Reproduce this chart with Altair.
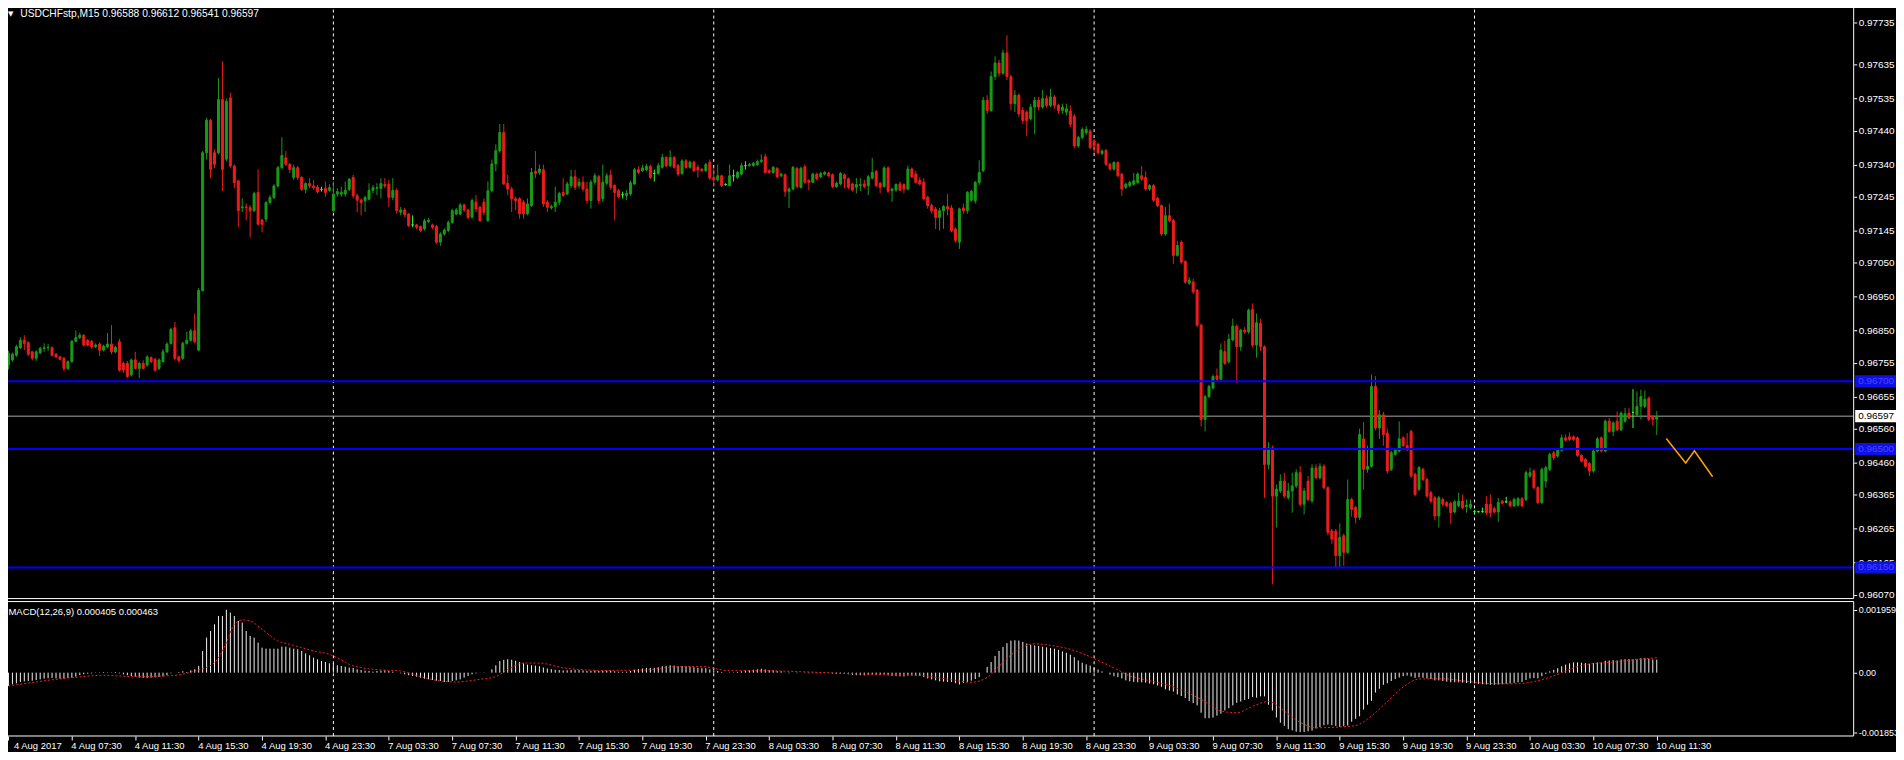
import json
import altair as alt
import pandas as pd

# ---------------- data (prices in points, 1 point = 0.00001) ----------------
OPEN_PTS = [
    96748,96763,96777,96799,96821,96814,96787,96768,96784,96797,
    96799,96799,96780,96772,96768,96738,96758,96818,96829,96836,
    96821,96818,96802,96810,96792,96802,96810,96787,96817,96753,
    96753,96719,96763,96738,96753,96748,96770,96765,96738,96758,
    96787,96812,96858,96772,96768,96812,96821,96849,96792,96968,
    97375,97471,97375,97375,97532,97356,97537,97336,97292,97213,
    97215,97213,97204,97258,97176,97179,97228,97243,97277,97331,
    97360,97341,97302,97331,97302,97267,97284,97277,97274,97267,
    97270,97264,97204,97253,97253,97253,97267,97302,97248,97235,
    97233,97238,97264,97270,97270,97282,97282,97243,97264,97199,
    97206,97194,97162,97162,97157,97150,97172,97162,97157,97111,
    97135,97145,97169,97194,97194,97221,97206,
    97185,97229,97214,97229,97175,97263,97342,97381,97435,97285,
    97268,97239,97239,97229,97195,97219,97320,97317,97325,97229,
    97212,97216,97229,97258,97253,97278,97304,97278,97288,97268,
    97234,97288,97304,97239,97285,97309,97278,97263,97251,97249,
    97253,97283,97325,97322,97325,97335,97314,97314,97332,97361,
    97337,97361,97337,97314,97351,97332,97347,97332,97326,97322,
    97347,97302,97295,97307,97281,97278,97307,97302,97312,97337,
    97337,97337,97340,97349,97363,97322,97317,97329,97307,97310,
    97261,97268,97329,97273,97334,97293,97288,97312,97304,97312,
    97315,97310,97275,97283,97310,97298,97283,97273,97278,97283,
    97278,97300,97320,97285,97275,97330,97263,97265,97283,97281,
    97268,97327,97312,97293,97288,97244,
    97219,97209,97184,97204,97216,97212,97150,97111,97212,97204,
    97235,97233,97287,97322,97530,97500,97600,97640,97610,97670,
    97600,97520,97545,97500,97495,97475,97510,97530,97510,97535,
    97515,97540,97515,97500,97495,97498,
    97483,97395,97420,97434,97439,97410,97400,97373,97382,97341,
    97327,97346,97312,97273,97278,97282,97287,97307,97302,97268,
    97278,97241,97219,97135,97189,97175,97072,97111,97054,96990,
    96993,96969,96866,96587,96655,96680,96716,96706,96788,96758,
    96822,96863,96802,96851,96846,96912,96807,96871,96802,96454,
    96503,96361,96376,96405,96356,96376,96391,96430,96337,96405,
    96347,96444,96415,96449,96386,96258,96258,96185,96244,96195,
    96351,96327,96298,96530,96440,96449,96685,96562,96601,96547,
    96440,96484,96494,96533,96510,96552,96425,96381,96440,96410,
    96371,96356,96302,96351,96342,96340,96314,96332,96346,96330,
    96327,96315,96315,96315,96337,96337,96324,96314,96346,96344,
    96344,96332,96334,96353,96351,96420,96435,96386,96342,96405,
    96440,96489,96479,96496,96533,96536,96536,96533,96481,96469,
    96457,96435,96494,96533,96494,96582,96552,96582,96557,96582,
    96606,96608,96601,96626,96626,96650,96596,96588,
]
HIGH_PTS = [
    96790,96785,96808,96830,96836,96818,96790,96792,96802,96812,
    96810,96803,96783,96776,96772,96762,96822,96850,96843,96840,
    96825,96822,96812,96815,96808,96843,96866,96805,96825,96758,
    96760,96767,96787,96758,96762,96777,96774,96770,96768,96795,
    96815,96858,96875,96776,96817,96846,96855,96900,96975,97380,
    97478,97475,97385,97596,97645,97535,97552,97340,97295,97240,
    97225,97220,97260,97326,97180,97232,97250,97282,97336,97421,
    97380,97345,97340,97336,97306,97288,97300,97295,97280,97275,
    97290,97282,97290,97270,97275,97290,97300,97310,97255,97240,
    97248,97285,97280,97285,97300,97300,97295,97300,97270,97215,
    97212,97197,97190,97165,97160,97180,97182,97166,97162,97140,
    97152,97175,97210,97212,97226,97225,97210,
    97240,97250,97218,97240,97290,97355,97400,97460,97460,97310,
    97275,97245,97244,97235,97240,97330,97380,97340,97340,97235,
    97222,97275,97260,97300,97290,97325,97325,97300,97305,97290,
    97295,97315,97310,97340,97315,97325,97282,97268,97260,97265,
    97292,97330,97335,97340,97342,97340,97325,97345,97372,97365,
    97382,97365,97342,97356,97356,97352,97352,97340,97330,97345,
    97355,97330,97340,97310,97285,97340,97325,97322,97345,97350,
    97345,97348,97355,97370,97372,97326,97336,97333,97316,97314,
    97273,97336,97333,97334,97340,97296,97316,97316,97318,97321,
    97319,97314,97290,97318,97314,97302,97287,97300,97300,97295,
    97310,97360,97325,97289,97335,97335,97272,97285,97290,97285,
    97337,97332,97322,97302,97300,97248,
    97225,97215,97212,97220,97253,97220,97155,97213,97225,97262,
    97265,97292,97353,97540,97545,97615,97660,97650,97680,97722,
    97605,97560,97550,97510,97500,97520,97540,97540,97560,97545,
    97564,97545,97520,97520,97520,97515,
    97490,97425,97450,97454,97445,97415,97405,97385,97386,97345,
    97350,97350,97316,97287,97292,97315,97317,97336,97320,97282,
    97282,97245,97223,97215,97225,97180,97115,97116,97058,97008,
    97003,96973,96870,96660,96690,96720,96738,96812,96820,96840,
    96885,96868,96855,96860,96915,96930,96900,96885,96806,96520,
    96510,96395,96425,96430,96400,96430,96440,96450,96385,96420,
    96455,96455,96458,96455,96390,96264,96264,96280,96250,96410,
    96356,96332,96560,96580,96510,96720,96715,96615,96610,96560,
    96495,96502,96582,96538,96547,96557,96430,96450,96445,96415,
    96376,96361,96362,96356,96346,96344,96350,96371,96366,96351,
    96351,96320,96318,96327,96361,96366,96330,96356,96350,96359,
    96348,96356,96358,96358,96436,96445,96440,96390,96445,96450,
    96489,96494,96500,96543,96543,96549,96540,96537,96485,96473,
    96461,96498,96535,96537,96587,96592,96582,96611,96611,96621,
    96621,96677,96670,96675,96673,96655,96600,96612,
]
LOW_PTS = [
    96735,96758,96772,96795,96792,96775,96762,96760,96780,96787,
    96790,96774,96769,96762,96730,96733,96755,96815,96825,96803,
    96803,96796,96798,96775,96788,96798,96780,96783,96728,96725,
    96710,96714,96735,96709,96735,96743,96753,96728,96733,96755,
    96783,96808,96762,96755,96763,96808,96817,96812,96790,96965,
    97355,97300,97330,97370,97262,97350,97330,97270,97155,97200,
    97175,97125,97200,97160,97140,97170,97222,97238,97272,97326,
    97336,97315,97295,97295,97262,97255,97270,97265,97255,97260,
    97245,97260,97200,97245,97245,97245,97262,97240,97200,97190,
    97200,97235,97255,97250,97240,97270,97215,97235,97195,97190,
    97185,97155,97155,97150,97140,97145,97168,97150,97105,97100,
    97130,97140,97165,97190,97190,97200,97178,
    97180,97200,97170,97190,97170,97258,97320,97375,97280,97250,
    97200,97205,97180,97180,97190,97215,97300,97310,97215,97200,
    97207,97200,97220,97245,97250,97270,97265,97270,97260,97225,
    97210,97280,97225,97230,97280,97265,97175,97240,97240,97235,
    97248,97280,97312,97318,97320,97298,97290,97310,97328,97332,
    97332,97328,97305,97310,97328,97328,97318,97302,97318,97318,
    97295,97275,97290,97274,97278,97275,97290,97298,97308,97325,
    97335,97334,97336,97345,97314,97313,97313,97300,97303,97245,
    97212,97264,97270,97269,97283,97264,97285,97293,97300,97308,
    97303,97270,97271,97279,97270,97268,97260,97255,97262,97270,
    97250,97296,97274,97255,97272,97256,97230,97260,97261,97255,
    97264,97300,97284,97278,97234,97210,
    97195,97150,97145,97150,97190,97140,97110,97091,97195,97195,
    97230,97225,97280,97318,97490,97495,97590,97600,97605,97590,
    97500,97495,97480,97460,97424,97470,97430,97500,97505,97508,
    97510,97505,97490,97490,97485,97450,
    97388,97390,97415,97428,97385,97375,97370,97368,97336,97322,
    97322,97302,97248,97268,97273,97278,97283,97292,97263,97263,
    97230,97214,97130,97130,97170,97047,97068,97047,96988,96985,
    96958,96860,96567,96552,96650,96676,96700,96700,96748,96752,
    96818,96694,96790,96840,96840,96800,96770,96790,96356,96440,
    96100,96268,96370,96355,96350,96312,96385,96330,96307,96345,
    96340,96410,96410,96380,96245,96220,96150,96150,96155,96190,
    96300,96280,96290,96380,96430,96445,96555,96530,96510,96428,
    96435,96480,96490,96505,96494,96415,96360,96376,96405,96356,
    96340,96290,96268,96330,96328,96278,96310,96328,96322,96312,
    96322,96310,96312,96312,96305,96298,96310,96285,96336,96340,
    96328,96328,96330,96328,96346,96415,96380,96337,96337,96386,
    96435,96467,96474,96492,96522,96524,96524,96477,96460,96445,
    96420,96430,96490,96490,96490,96548,96538,96553,96553,96578,
    96588,96562,96597,96587,96621,96582,96569,96541,
]
CLOSE_PTS = [
    96782,96780,96802,96821,96812,96780,96768,96787,96797,96799,
    96800,96777,96772,96765,96738,96758,96818,96829,96836,96807,
    96807,96802,96807,96792,96804,96810,96787,96800,96733,96733,
    96714,96763,96738,96753,96738,96772,96758,96733,96763,96787,
    96810,96853,96768,96761,96812,96821,96849,96817,96968,97375,
    97471,97326,97341,97532,97326,97527,97336,97287,97204,97215,
    97213,97204,97255,97164,97164,97228,97243,97277,97331,97367,
    97341,97326,97331,97302,97267,97284,97277,97272,97260,97267,
    97258,97272,97253,97260,97258,97264,97297,97248,97235,97228,
    97243,97264,97272,97272,97284,97277,97243,97264,97204,97206,
    97192,97160,97162,97155,97145,97174,97176,97155,97111,97135,
    97147,97169,97204,97206,97221,97206,97184,
    97234,97209,97175,97199,97263,97342,97381,97435,97283,97268,
    97239,97234,97195,97195,97224,97317,97314,97327,97224,97214,
    97216,97229,97255,97249,97283,97304,97273,97288,97268,97234,
    97288,97307,97234,97288,97307,97273,97258,97246,97251,97255,
    97286,97325,97317,97330,97335,97302,97314,97337,97361,97337,
    97361,97332,97312,97351,97332,97347,97322,97324,97322,97340,
    97300,97295,97307,97278,97281,97307,97307,97317,97337,97337,
    97340,97344,97349,97353,97317,97317,97332,97304,97312,97261,
    97268,97332,97275,97329,97288,97288,97312,97298,97314,97317,
    97307,97275,97285,97314,97298,97273,97265,97281,97281,97275,
    97304,97317,97278,97273,97330,97261,97268,97281,97265,97268,
    97327,97304,97288,97283,97239,97219,
    97204,97184,97204,97216,97209,97145,97116,97209,97204,97258,
    97261,97287,97317,97530,97500,97600,97640,97610,97670,97600,
    97520,97545,97490,97470,97470,97510,97530,97510,97535,97515,
    97540,97515,97500,97510,97505,97459,
    97395,97420,97444,97444,97390,97395,97375,97380,97341,97327,
    97346,97307,97268,97282,97287,97292,97312,97297,97268,97278,
    97235,97219,97135,97189,97175,97072,97101,97052,96993,96998,
    96964,96866,96587,96655,96685,96714,96706,96792,96753,96824,
    96863,96802,96851,96846,96910,96807,96873,96802,96454,96503,
    96361,96381,96405,96361,96376,96391,96430,96337,96376,96351,
    96444,96415,96449,96386,96254,96234,96185,96239,96195,96351,
    96322,96298,96543,96440,96449,96685,96562,96601,96543,96435,
    96489,96498,96530,96510,96498,96420,96366,96445,96410,96361,
    96346,96302,96356,96337,96332,96312,96344,96346,96327,96334,
    96337,96315,96315,96315,96312,96312,96314,96342,96340,96344,
    96332,96351,96353,96332,96430,96430,96386,96342,96440,96445,
    96484,96474,96496,96533,96526,96528,96528,96481,96464,96449,
    96435,96494,96530,96494,96582,96552,96577,96557,96606,96604,
    96592,96608,96626,96655,96647,96587,96587,96597,
]

# MACD main line per bar, in millionths
MACD_E6 = [
    -416,-364,-333,-291,-270,-260,-250,-229,-208,-187,
    -177,-166,-177,-187,-187,-166,-156,-125,-73,-52,
    -31,-21,-10,10,21,10,10,21,-21,-52,
    -83,-104,-125,-156,-166,-166,-156,-146,-135,-114,
    -83,-21,0,21,42,21,73,104,208,676,
    1092,1300,1508,1768,1768,1959,1872,1768,1612,1560,
    1300,1144,1092,936,780,749,749,749,749,811,
    811,780,749,728,676,603,541,468,416,364,
    333,291,291,229,208,187,156,146,104,83,
    62,52,31,52,62,73,52,31,0,-21,
    -52,-83,-104,-125,-156,-187,-208,-229,-250,-260,
    -291,-291,-260,-239,-208,-156,-104,-52,-21,0,
    -10,0,104,229,364,
    400,420,400,370,330,290,250,230,220,200,
    160,130,110,90,80,70,75,85,85,80,
    70,55,60,70,55,60,70,65,45,30,
    25,30,50,90,110,130,150,150,150,170,
    200,210,230,220,200,210,200,190,170,150,
    140,140,100,70,50,20,0,10,10,20,
    40,60,75,90,105,120,100,80,75,55,
    45,5,-20,0,-15,0,-10,-20,-15,-20,
    -15,-10,-10,-30,-40,-30,-35,-50,-70,-75,
    -80,-85,-70,-50,-60,-75,-50,-80,-100,-105,
    -115,-120,-90,-85,-95,-105,-140,-180,-210,-240,
    -270,-280,-285,-290,-330,-370,-320,-300,-250,-200,
    -140,0,180,330,520,680,800,920,1000,1010,
    1000,960,910,870,850,830,810,790,770,750,
    710,660,620,560,480,380,310,260,220,160,
    100,40,0,-60,-110,-140,-180,-240,-270,-290,
    -300,-300,-310,-340,-360,-400,-440,-520,-560,-590,
    -680,-730,-790,-880,-950,-1020,-1250,-1420,-1420,-1400,
    -1340,-1280,-1180,-1110,-1020,-940,-900,-850,-820,-760,
    -780,-740,-740,-1000,-1180,-1400,-1560,-1660,-1760,-1800,
    -1840,-1853,-1850,-1830,-1810,-1740,-1700,-1640,-1620,-1640,
    -1660,-1690,-1670,-1650,-1530,-1440,-1360,-1150,-1000,-880,
    -620,-500,-380,-330,-260,-200,-150,-110,-90,-120,
    -160,-150,-160,-180,-200,-240,-240,-260,-280,-300,
    -300,-300,-310,-320,-330,-340,-350,-360,-370,-380,
    -380,-370,-360,-350,-340,-320,-300,-290,-230,-180,
    -170,-180,-110,-40,40,90,140,200,250,290,
    320,320,310,300,280,300,320,320,370,380,
    390,380,410,420,420,420,430,450,460,430,
    410,405,
]

# MACD signal line, read at these bars (millionths)
SIGNAL_BAR = [0,16,24,32,42,47,52,55,57,59,61,64,68,71,74,77,81,84,86,89,
              92,96,99,102,106,109,113,116,119,123,126,130,134,140,150,160,168,175,182,190,
              200,210,220,230,238,243,247,250,253,256,259,263,267,271,275,279,283,288,293,298,
              302,306,310,314,318,322,326,330,335,340,344,348,352,356,362,368,374,380,386,390,
              394,398,404,410,416]
SIGNAL_E6 = [-416,-156,-83,-125,-83,52,312,936,1508,1643,1612,1352,988,884,780,676,572,400,260,156,
             104,73,52,-52,-187,-260,-291,-260,-208,-125,100,300,300,150,70,80,180,190,60,60,
             30,-20,-60,-90,-220,-300,-150,200,550,800,900,850,760,600,380,150,-100,-250,-400,-650,
             -900,-1200,-1250,-1050,-900,-1200,-1550,-1720,-1700,-1650,-1350,-900,-450,-200,-190,-270,-340,-350,-250,-100,
             100,250,320,400,463]

TIME_LABELS = ["4 Aug 2017", "4 Aug 07:30", "4 Aug 11:30", "4 Aug 15:30", "4 Aug 19:30",
               "4 Aug 23:30", "7 Aug 03:30", "7 Aug 07:30", "7 Aug 11:30", "7 Aug 15:30",
               "7 Aug 19:30", "7 Aug 23:30", "8 Aug 03:30", "8 Aug 07:30", "8 Aug 11:30",
               "8 Aug 15:30", "8 Aug 19:30", "8 Aug 23:30", "9 Aug 03:30", "9 Aug 07:30",
               "9 Aug 11:30", "9 Aug 15:30", "9 Aug 19:30", "9 Aug 23:30", "10 Aug 03:30",
               "10 Aug 07:30", "10 Aug 11:30"]
TIME_TICK_BARS = [16 * k for k in range(len(TIME_LABELS))]

PRICE_LABELS = ["0.97735", "0.97635", "0.97535", "0.97440", "0.97340", "0.97245",
                "0.97145", "0.97050", "0.96950", "0.96850", "0.96755", "0.96655",
                "0.96560", "0.96460", "0.96365", "0.96265", "0.96165", "0.96070"]
PRICE_LABEL_POS = [0.97760, 0.97635, 0.97535, 0.97440, 0.97340, 0.97245,
                   0.97145, 0.97050, 0.96950, 0.96850, 0.96755, 0.96655,
                   0.96560, 0.96460, 0.96365, 0.96265, 0.96165, 0.96070]

MACD_LABELS = ["0.001959", "0.00", "-0.001853"]
MACD_LABEL_POS = [0.001959, 0.0, -0.001853]

LEVELS = [0.96700, 0.96500, 0.96150]
LAST_PRICE = 0.96597
SEPARATOR_BARS = [82, 178, 274, 370]
ORANGE_BAR = [418.4, 423.3, 425.5, 430.1]
ORANGE_PRICE = [0.96531, 0.96459, 0.96495, 0.96418]

# ---------------- frames ----------------
n = len(CLOSE_PTS)
candles = pd.DataFrame({
    "bar": list(range(n)),
    "open": [v / 1e5 for v in OPEN_PTS],
    "high": [v / 1e5 for v in HIGH_PTS],
    "low": [v / 1e5 for v in LOW_PTS],
    "close": [v / 1e5 for v in CLOSE_PTS],
    "kind": ["bull" if c > o else ("bear" if c < o else "doji") for o, c in zip(OPEN_PTS, CLOSE_PTS)],
})
macd = pd.DataFrame({"bar": list(range(len(MACD_E6))), "macd": [v / 1e6 for v in MACD_E6]})
macd["zero"] = 0.0
signal = pd.DataFrame({"bar": SIGNAL_BAR, "sig": [v / 1e6 for v in SIGNAL_E6]})
seps = pd.DataFrame({"bar": SEPARATOR_BARS})
levels = pd.DataFrame({"price": LEVELS})
orange = pd.DataFrame({"bar": ORANGE_BAR, "price": ORANGE_PRICE, "i": list(range(len(ORANGE_BAR)))})

BOX_HALF = 0.00018
boxes = pd.DataFrame({
    "price": LEVELS + [LAST_PRICE],
    "label": [f"{p:.5f}" for p in LEVELS] + [f"{LAST_PRICE:.5f}"],
    "fill": ["#1010e6", "#1010e6", "#1010e6", "#ffffff"],
    "tcol": ["#4848ff", "#4848ff", "#4848ff", "#000000"],
})
boxes["lo"] = boxes["price"] - BOX_HALF
boxes["hi"] = boxes["price"] + BOX_HALF
last_price_df = pd.DataFrame({"price": [LAST_PRICE]})
one = pd.DataFrame({"k": [0]})

# ---------------- geometry (pixels inside the 1896 x 744 canvas) ----------------
FONT = "Liberation Sans"
W, H = 1896, 744
RIGHT = 1853.5          # right border of both panels
MAIN_TOP, MAIN_BOT = -6.5, 591.5
MACD_TOP, MACD_BOT = 594.5, 729.5

X_SCALE = alt.Scale(domain=[-1.125, 475.125], range=[-9, W], nice=False, zero=False)
P_SCALE = alt.Scale(domain=[0.9605824, 0.9781706], range=[MAIN_BOT, MAIN_TOP], nice=False, zero=False)
M_SCALE = alt.Scale(domain=[-0.001975, 0.002217], range=[MACD_BOT, MACD_TOP], nice=False, zero=False)
KIND = alt.Scale(domain=["bull", "bear", "doji"], range=["#199a19", "#ee1c1c", "#33ff33"])

price_axis = alt.Axis(
    orient="right", offset=RIGHT - W, values=PRICE_LABEL_POS,
    labelExpr=f"{json.dumps(PRICE_LABELS)}[indexof({json.dumps(PRICE_LABEL_POS)}, datum.value)]",
    title=None, domain=False, grid=False, tickColor="#ffffff", tickSize=3,
    labelColor="#ffffff", labelFont=FONT, labelFontSize=10, labelPadding=1.5,
    labelOverlap=False, labelFlush=False, labelBound=False,
)
macd_axis = alt.Axis(
    orient="right", offset=RIGHT - W, values=MACD_LABEL_POS,
    labelExpr=f"{json.dumps(MACD_LABELS)}[indexof({json.dumps(MACD_LABEL_POS)}, datum.value)]",
    title=None, domain=False, grid=False, tickColor="#ffffff", tickSize=3,
    labelColor="#ffffff", labelFont=FONT, labelFontSize=9, labelPadding=1.5,
    labelOverlap=False, labelFlush=False, labelBound=False,
)
time_axis = alt.Axis(
    orient="bottom", offset=MACD_BOT - H, values=TIME_TICK_BARS,
    labelExpr=f"{json.dumps(TIME_LABELS)}[indexof({json.dumps(TIME_TICK_BARS)}, datum.value)]",
    title=None, domain=False, grid=False, tickColor="#ffffff", tickSize=4,
    labelColor="#ffffff", labelFont=FONT, labelFontSize=9.5, labelPadding=1,
    labelAlign="left", labelBaseline="top",
    labelOffset={"condition": {"test": "datum.value == 0", "value": 5}, "value": -1},
    labelOverlap=False, labelFlush=False, labelBound=False,
)

X = alt.X("bar:Q", scale=X_SCALE, axis=time_axis)

# ---------------- main panel ----------------
frame_main = alt.Chart(one).mark_rect(fillOpacity=0, stroke="#ffffff", strokeWidth=1).encode(
    x=alt.value(-6.5), x2=alt.value(RIGHT), y=alt.value(MAIN_TOP), y2=alt.value(MAIN_BOT))
sep_main = alt.Chart(seps).mark_rule(color="#ffffff", strokeWidth=1, strokeDash=[3, 3]).encode(
    x=X, y=alt.value(0), y2=alt.value(MAIN_BOT))
last_line = alt.Chart(last_price_df).mark_rule(color="#a8a8a8", strokeWidth=1).encode(
    x=alt.value(0), x2=alt.value(RIGHT),
    y=alt.Y("price:Q", scale=P_SCALE, axis=price_axis))
wicks = alt.Chart(candles).mark_rule(strokeWidth=1, clip=True).encode(
    x=X, y=alt.Y("low:Q", scale=P_SCALE, axis=price_axis), y2="high:Q",
    color=alt.Color("kind:N", scale=KIND, legend=None))
bodies = alt.Chart(candles).mark_bar(width=2, strokeWidth=1, clip=True).encode(
    x=X, y=alt.Y("open:Q", scale=P_SCALE, axis=price_axis), y2="close:Q",
    fill=alt.Fill("kind:N", scale=KIND, legend=None),
    stroke=alt.Stroke("kind:N", scale=KIND, legend=None))
level_lines = alt.Chart(levels).mark_rule(color="#0000ff", strokeWidth=2).encode(
    x=alt.value(0), x2=alt.value(RIGHT),
    y=alt.Y("price:Q", scale=P_SCALE, axis=price_axis))
orange_line = alt.Chart(orange).mark_line(color="#ffa500", strokeWidth=1.5, clip=True).encode(
    x=X, y=alt.Y("price:Q", scale=P_SCALE, axis=price_axis), order="i:Q")
box_rect = alt.Chart(boxes).mark_rect().encode(
    x=alt.value(RIGHT + 1.5), x2=alt.value(W),
    y=alt.Y("lo:Q", scale=P_SCALE, axis=price_axis), y2="hi:Q",
    fill=alt.Fill("fill:N", scale=None))
box_text = alt.Chart(boxes).mark_text(align="left", baseline="middle", font=FONT, fontSize=10).encode(
    x=alt.value(RIGHT + 4.5), y=alt.Y("price:Q", scale=P_SCALE, axis=price_axis), text="label:N",
    color=alt.Color("tcol:N", scale=None))

title_str = "USDCHFstp,M15  {:.5f} {:.5f} {:.5f} {:.5f}".format(
    OPEN_PTS[-1] / 1e5, HIGH_PTS[-1] / 1e5, LOW_PTS[-1] / 1e5, CLOSE_PTS[-1] / 1e5)
tri = alt.Chart(pd.DataFrame({"t": ["\u25bc"]})).mark_text(
    align="center", baseline="middle", font="DejaVu Sans", fontSize=7, color="#ffffff").encode(
    x=alt.value(2.7), y=alt.value(4.3), text="t:N")
title_txt = alt.Chart(pd.DataFrame({"t": [title_str]})).mark_text(
    align="left", baseline="middle", font=FONT, fontSize=10.3, color="#ffffff").encode(
    x=alt.value(12.3), y=alt.value(4.6), text="t:N")

main = alt.layer(
    sep_main, last_line, wicks, bodies, level_lines, orange_line, box_rect, box_text,
    frame_main, tri, title_txt
)

# ---------------- MACD panel ----------------
frame_macd = alt.Chart(one).mark_rect(fillOpacity=0, stroke="#ffffff", strokeWidth=1).encode(
    x=alt.value(-6.5), x2=alt.value(RIGHT), y=alt.value(MACD_TOP), y2=alt.value(MACD_BOT))
sep_macd = alt.Chart(seps).mark_rule(color="#ffffff", strokeWidth=1, strokeDash=[3, 3]).encode(
    x=X, y=alt.value(MACD_TOP), y2=alt.value(MACD_BOT))
hist = alt.Chart(macd).mark_rule(color="#f2f2f2", strokeWidth=1, clip=True).encode(
    x=X, y=alt.Y("zero:Q", scale=M_SCALE, axis=macd_axis), y2="macd:Q")
sig = alt.Chart(signal).mark_line(color="#ff1a1a", strokeWidth=1, strokeDash=[2, 2], clip=True,
                                  interpolate="monotone").encode(
    x=X, y=alt.Y("sig:Q", scale=M_SCALE, axis=macd_axis))
macd_txt = alt.Chart(pd.DataFrame({"t": ["MACD(12,26,9) 0.000405 0.000463"]})).mark_text(
    align="left", baseline="middle", font=FONT, fontSize=9.5, color="#ffffff").encode(
    x=alt.value(0.5), y=alt.value(604.7), text="t:N")

macd_panel = alt.layer(sep_macd, hist, sig, frame_macd, macd_txt)

chart = alt.layer(main, macd_panel).resolve_scale(y="independent").resolve_axis(y="independent").properties(
    width=W, height=H,
    autosize=alt.AutoSizeParams(type="none"),
    padding=0,
    background="#000000",
).configure_view(strokeWidth=0, fill="#000000")

chart.save("out.html", embed_options={"renderer": "svg", "actions": False})
